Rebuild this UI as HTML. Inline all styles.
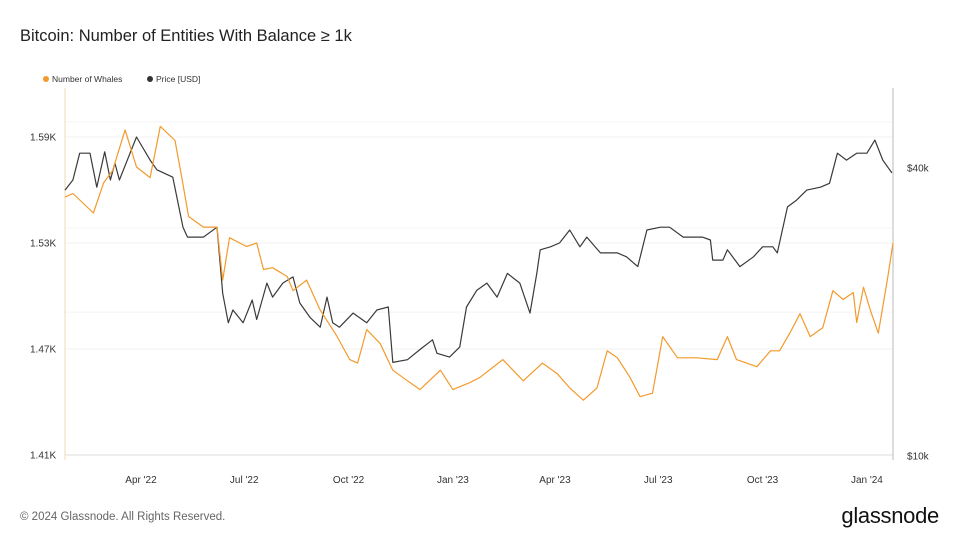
<!DOCTYPE html>
<html><head><meta charset="utf-8"><style>
body{margin:0;background:#fff;font-family:"Liberation Sans",sans-serif;}
svg{display:block}
</style></head><body>
<svg width="960" height="540" viewBox="0 0 960 540">
<text x="20" y="41" font-size="16.5" fill="#222">Bitcoin: Number of Entities With Balance ≥ 1k</text>
<g>
<circle cx="46" cy="79" r="3" fill="#f39a2c"/>
<text x="52" y="82" font-size="8.5" fill="#333">Number of Whales</text>
<circle cx="150" cy="79" r="3" fill="#333"/>
<text x="156" y="82" font-size="8.5" fill="#333">Price [USD]</text>
</g>
<g id="grid"></g>
<line x1="65" y1="88" x2="65" y2="460" stroke="#f5d9b5" stroke-width="1"/>
<line x1="893" y1="88" x2="893" y2="460" stroke="#bbb" stroke-width="1"/>
<g id="ylabels" font-size="10" fill="#333"></g>
<g id="y2labels" font-size="10" fill="#333"></g>
<g id="xlabels" font-size="10" fill="#333" text-anchor="middle"></g>
<path id="pricePath" fill="none" stroke="#3a3a3a" stroke-width="1.2" stroke-linejoin="round"/>
<path id="whalePath" fill="none" stroke="#f39a2c" stroke-width="1.2" stroke-linejoin="round"/>
<text x="20" y="520" font-size="11.5" fill="#666">© 2024 Glassnode. All Rights Reserved.</text>
<text x="939" y="523" font-size="22" fill="#111" text-anchor="end" letter-spacing="-0.3">glassnode</text>
</svg>
<script>
const whaleDays=[0,7,25,34,42,53,63,75,84,97,103,109,122,134,139,145,160,169,175,183,196,201,213,225,240,251,258,266,278,289,302,313,331,342,357,366,386,404,421,434,445,457,469,478,487,498,507,518,527,540,557,575,584,592,610,622,630,639,648,657,668,677,686,695,698,704,710,717,725,730];
const whaleValues=[1.556,1.558,1.547,1.564,1.571,1.594,1.573,1.567,1.596,1.588,1.567,1.545,1.539,1.539,1.509,1.533,1.528,1.530,1.515,1.516,1.511,1.503,1.509,1.492,1.477,1.464,1.462,1.481,1.473,1.458,1.452,1.447,1.458,1.447,1.451,1.454,1.464,1.452,1.462,1.456,1.448,1.441,1.448,1.469,1.465,1.454,1.443,1.445,1.477,1.465,1.465,1.464,1.477,1.464,1.460,1.469,1.469,1.479,1.490,1.477,1.482,1.503,1.498,1.502,1.485,1.505,1.492,1.479,1.509,1.530];
const priceDays=[0,7,13,22,28,35,40,44,48,63,75,81,95,104,108,122,134,139,144,148,157,165,169,178,183,192,201,207,216,225,231,236,242,254,266,275,285,289,302,313,324,328,339,348,354,363,372,381,390,401,410,416,419,428,436,445,454,460,472,487,495,505,513,525,533,545,562,569,571,580,584,595,607,615,624,628,637,645,654,666,674,681,689,698,707,714,721,729];
const priceValues=[36.0,37.8,43.0,43.0,36.5,43.3,37.8,41.0,37.8,46.5,41.6,39.7,38.3,30.1,28.7,28.7,30.1,21.9,19.0,20.2,19.0,21.2,19.3,23.0,21.5,23.0,23.7,20.9,19.5,18.6,21.5,19.0,18.6,19.9,19.0,20.2,20.5,15.7,15.9,16.7,17.5,16.4,16.1,16.9,20.5,22.2,23.0,21.5,24.1,23.0,19.9,24.1,27.0,27.4,27.9,29.7,27.4,28.7,26.6,26.6,26.1,24.9,29.7,30.1,30.1,28.7,28.7,28.3,25.7,25.7,27.0,24.9,26.1,27.4,27.4,26.6,33.2,34.3,36.0,36.5,37.2,43.0,41.6,43.0,43.0,45.8,41.6,39.1];
const leftTicks=[1.41,1.47,1.53,1.59];
const leftTickLabels=["1.41K","1.47K","1.53K","1.59K"];
const rightTicks=[10,40];
const rightTickLabels=["$10k","$40k"];
const xTickDays=[67,158,250,342,432,523,615,707];
const xTickLabels=["Apr '22","Jul '22","Oct '22","Jan '23","Apr '23","Jul '23","Oct '23","Jan '24"];

const NS="http://www.w3.org/2000/svg";
const xS=d=>65+d/730*828;
const yL=v=>137+(1.59-v)/0.06*106;
const yR=p=>456-Math.log10(p/10)*478;
function path(days,vals,f){return days.map((d,i)=>(i?'L':'M')+xS(d).toFixed(1)+','+f(vals[i]).toFixed(1)).join('');}
document.getElementById('whalePath').setAttribute('d',path(whaleDays,whaleValues,yL));
document.getElementById('pricePath').setAttribute('d',path(priceDays,priceValues,yR));
const grid=document.getElementById('grid');
leftTicks.forEach((t,i)=>{
 const l=document.createElementNS(NS,'line');
 l.setAttribute('x1',65);l.setAttribute('x2',893);l.setAttribute('y1',yL(t));l.setAttribute('y2',yL(t));
 l.setAttribute('stroke',i===0?'#ddd':'#f2f2f2');
 
 
 grid.appendChild(l);
 const tx=document.createElementNS(NS,'text');
 tx.setAttribute('x',30);tx.setAttribute('y',yL(t)+3.5);tx.textContent=leftTickLabels[i];
 
 
 document.getElementById('ylabels').appendChild(tx);
});
[20,30,50].forEach(p=>{
 const l=document.createElementNS(NS,'line');
 l.setAttribute('x1',65);l.setAttribute('x2',893);l.setAttribute('y1',yR(p));l.setAttribute('y2',yR(p));
 l.setAttribute('stroke','#f4f4f4');
 
 
 grid.appendChild(l);
});
rightTicks.forEach((t,i)=>{
 const tx=document.createElementNS(NS,'text');
 tx.setAttribute('x',907);tx.setAttribute('y',yR(t)+3.5);tx.textContent=rightTickLabels[i];
 
 
 document.getElementById('y2labels').appendChild(tx);
});
xTickDays.forEach((d,i)=>{
 const tx=document.createElementNS(NS,'text');
 tx.setAttribute('x',xS(d));tx.setAttribute('y',483);tx.textContent=xTickLabels[i];
 
 
 document.getElementById('xlabels').appendChild(tx);
});
</script>
</body></html>
